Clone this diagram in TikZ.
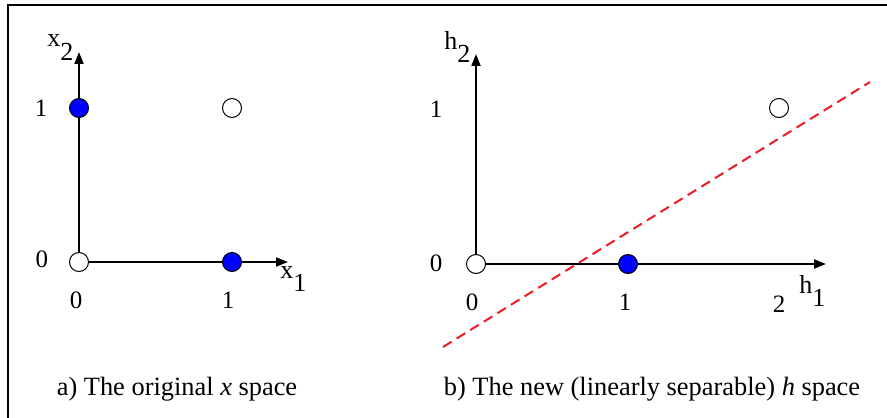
\documentclass[tikz,border=0pt]{standalone}
\usepackage{fontspec}
\setmainfont{Liberation Serif}
\usetikzlibrary{arrows.meta}
\definecolor{ptblue}{RGB}{0,0,255}
\definecolor{sepred}{RGB}{237,28,36}
\tikzset{
  datapt/.style={
    circle, draw=black, fill=#1, line width=0.5pt,
    minimum size=9.5pt, inner sep=0pt
  },
  datapt/.default=white,
  axisline/.style={
    -{Triangle[length=6pt,width=4.5pt]}, line width=1pt
  },
  ticklabel/.style={
    font=\fontsize{12.5}{14}\selectfont, inner sep=0pt
  },
  axislabel/.style={
    font=\fontsize{13}{15}\selectfont, anchor=base west, inner sep=0pt
  },
  capnode/.style={
    font=\fontsize{13.2}{16}\selectfont, anchor=base, inner sep=0pt
  },
  sepline/.style={
    color=sepred, line width=1pt, dash pattern=on 5pt off 3pt
  },
}
\newcommand{\lowsub}[1]{\raisebox{-6.5pt}{#1}}

\begin{document}
\begin{tikzpicture}[x=0.5pt, y=-0.5pt]
  \clip (0,0) rectangle (887,417);
  \draw[line width=0.6pt] (8,5) rectangle (900,430);

  % a) original x space
  \coordinate (ao) at (79,262);
  \coordinate (ax1) at (288,262);
  \coordinate (ax2) at (79,52);
  \draw[axisline] (ao) -- (ax1);
  \draw[axisline] (ao) -- (ax2);
  \node[datapt] (a00) at (ao) {};
  \node[datapt=ptblue] (a01) at (79,108) {};
  \node[datapt=ptblue] (a10) at (232,262) {};
  \node[datapt] (a11) at (232,108) {};

  \node[axislabel] (ax2lab) at (47,47) {x\lowsub{2}};
  \node[axislabel] (ax1lab) at (280,278) {x\lowsub{1}};
  \node[ticklabel] (ay1) at (41,108) {1};
  \node[ticklabel] (ay0) at (42,259) {0};
  \node[ticklabel] (at0) at (76,300) {0};
  \node[ticklabel] (at1) at (228,300) {1};

  % b) new h space
  \coordinate (bo) at (476,264);
  \coordinate (bh1) at (826,264);
  \coordinate (bh2) at (476,54);
  \draw[axisline] (bo) -- (bh1);
  \draw[axisline] (bo) -- (bh2);
  \coordinate (sepa) at (443,347);
  \coordinate (sepb) at (870,82);
  \draw[sepline] (sepa) -- (sepb);
  \node[datapt] (b00) at (bo) {};
  \node[datapt=ptblue] (b10) at (628,264) {};
  \node[datapt] (b21) at (779,108) {};

  \node[axislabel] (bh2lab) at (444,50) {h\lowsub{2}};
  \node[axislabel] (bh1lab) at (799,293) {h\lowsub{1}};
  \node[ticklabel] (by1) at (436,109) {1};
  \node[ticklabel] (by0) at (436,263) {0};
  \node[ticklabel] (bt0) at (472,302) {0};
  \node[ticklabel] (bt1) at (625,302) {1};
  \node[ticklabel] (bt2) at (779,304) {2};

  % Captions
  \node[capnode] (capa) at (177,395) {a) The original \textit{x} space};
  \node[capnode] (capb) at (652,395) {b) The new (linearly separable) \textit{h} space};
\end{tikzpicture}
\end{document}
